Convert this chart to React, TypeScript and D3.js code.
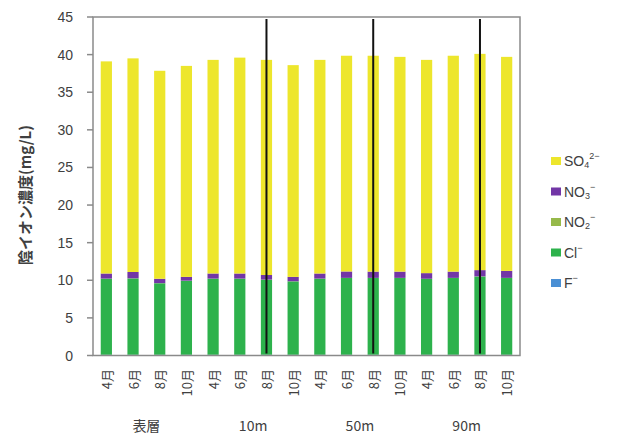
import React from "react";
import * as d3 from "d3";

const months = ["4月", "6月", "8月", "10月", "4月", "6月", "8月", "10月", "4月", "6月", "8月", "10月", "4月", "6月", "8月", "10月"];
const groups = ["表層", "10m", "50m", "90m"];
const yTicks = [0, 5, 10, 15, 20, 25, 30, 35, 40, 45];

const fVals = [0.1, 0.1, 0.1, 0.1, 0.1, 0.1, 0.1, 0.1, 0.1, 0.1, 0.1, 0.1, 0.1, 0.1, 0.1, 0.1];
const clVals = [10.1, 10.14, 9.5, 9.83, 10.1, 10.1, 9.97, 9.75, 10.1, 10.2, 10.2, 10.2, 10.08, 10.2, 10.4, 10.2];
const no2Vals = [0.02, 0.02, 0.02, 0.02, 0.02, 0.02, 0.02, 0.02, 0.02, 0.02, 0.02, 0.02, 0.02, 0.02, 0.02, 0.02];
const no3Vals = [0.68, 0.84, 0.58, 0.5, 0.68, 0.68, 0.61, 0.58, 0.68, 0.85, 0.83, 0.83, 0.75, 0.83, 0.83, 0.93];
const so4Vals = [28.2, 28.4, 27.65, 28.05, 28.4, 28.7, 28.6, 28.15, 28.4, 28.68, 28.7, 28.55, 28.35, 28.7, 28.75, 28.45];

const seriesNames = ["F-", "Cl-", "NO2-", "NO3-", "SO42-"];
// legend label parts: [base, subscript, superscript]
const legendParts: [string, string, string][] = [
  ["F", "", "−"],
  ["Cl", "", "−"],
  ["NO", "2", "−"],
  ["NO", "3", "−"],
  ["SO", "4", "2−"],
];
const seriesVals = [fVals, clVals, no2Vals, no3Vals, so4Vals];
const seriesColors = ["#4a8fd4", "#2db24c", "#96b94a", "#7236a6", "#ede62c"];
const dividerIdx = [6, 10, 14];

const W = 620, H = 435;
const L = 93, R = 520, T = 17, B = 355.5;

export default function App() {
  const idx = d3.range(months.length).map(String);
  const x = d3.scaleBand().domain(idx).range([L, R]).paddingInner(0.58).paddingOuter(0.29);
  const y = d3.scaleLinear().domain([0, 45]).range([B, T]);
  const rows = idx.map((k, i) => {
    const o: any = { key: k };
    seriesNames.forEach((s, j) => (o[s] = seriesVals[j][i]));
    return o;
  });
  const stack = d3.stack().keys(seriesNames)(rows as any);
  const step = x.step();
  const font = "'Liberation Sans', 'Noto Sans CJK JP', sans-serif";
  const jp = "'Noto Sans CJK JP', sans-serif";
  const txt = "#404040";

  return (
    <svg width={W} height={H} style={{ position: "absolute", left: 0, top: 0, background: "#fff" }}>
      {stack.map((layer, j) => (
        <g key={j} fill={seriesColors[j]}>
          {layer.map((d: any, i) => (
            <rect key={i} x={x(String(i))} width={x.bandwidth()} y={y(d[1])} height={Math.max(0, y(d[0]) - y(d[1]))} />
          ))}
        </g>
      ))}
      <rect x={L} y={T} width={R - L} height={B - T} fill="none" stroke="#8a8a8a" strokeWidth={1.5} />
      {yTicks.map((t) => (
        <g key={t}>
          <line x1={L - 6} x2={L} y1={y(t)} y2={y(t)} stroke="#8a8a8a" strokeWidth={1.5} />
          <text x={L - 20} y={y(t)} textAnchor="end" dominantBaseline="central" fontSize={14} fill={txt} fontFamily={font}>{t}</text>
        </g>
      ))}
      {dividerIdx.map((i) => (
        <line key={i} x1={x(String(i))! + x.bandwidth() / 2} x2={x(String(i))! + x.bandwidth() / 2} y1={T + 2} y2={B - 2} stroke="#111" strokeWidth={2} />
      ))}
      {months.map((m, i) => (
        <text key={i} transform={`translate(${x(String(i))! + x.bandwidth() / 2},369) rotate(-90)`} textAnchor="end" dominantBaseline="central" fontSize={13} fill={txt} fontFamily={jp}>{m}</text>
      ))}
      {groups.map((g, k) => (
        <text key={g} x={L + step * (k * 4 + 2)} y={425} textAnchor="middle" dominantBaseline="central" fontSize={14} fill={txt} fontFamily={jp}>{g}</text>
      ))}
      <text transform={`translate(24,195) rotate(-90)`} textAnchor="middle" dominantBaseline="central" fontSize={15} fontWeight="bold" fill={txt} fontFamily={jp}>陰イオン濃度(mg/L)</text>
      {legendParts.slice().reverse().map((p, k) => {
        const j = legendParts.length - 1 - k;
        const cy = 161 + k * 30.5;
        return (
          <g key={k}>
            <rect x={551} y={cy - 4} width={10} height={8} fill={seriesColors[j]} />
            <text x={564} y={cy + 5} fontSize={14} fill={txt} fontFamily={font}>
              {p[0]}
              {p[1] ? <tspan fontSize={9} dy={2}>{p[1]}</tspan> : null}
              <tspan fontSize={9} dy={p[1] ? -9 : -7}>{p[2]}</tspan>
            </text>
          </g>
        );
      })}
    </svg>
  );
}
